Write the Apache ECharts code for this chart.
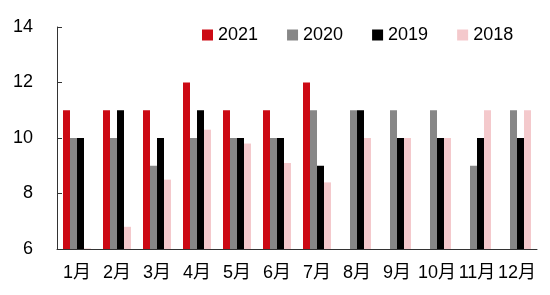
<!DOCTYPE html>
<html><head><meta charset="utf-8">
<script src="https://cdn.jsdelivr.net/npm/echarts@6/dist/echarts.min.js"></script>
<style>html,body{margin:0;padding:0;background:#fff}#c{width:550px;height:295px}</style>
</head><body><div id="c"></div>
<script>
const categories = ['1月','2月','3月','4月','5月','6月','7月','8月','9月','10月','11月','12月'];
const s2021 = [11,11,11,12,11,11,12,null,null,null,null,null];
const s2020 = [10,10,9,10,10,10,11,11,11,11,9,11];
const s2019 = [10,11,10,11,10,10,9,11,10,10,10,10];
const s2018 = [6.02,6.8,8.5,10.3,9.8,9.1,8.4,10,10,10,11,11];
const seriesNames = ['2021','2020','2019','2018'];
const colors = ['#CC0A14','#878787','#000000','#F4C9CC'];
const font = '"Liberation Sans", "Noto Sans CJK SC", sans-serif';
const chart = echarts.init(document.getElementById('c'));
const dataSets = [s2021,s2020,s2019,s2018];
chart.setOption({
  animation:false,
  legend:{top:21,left:197,itemWidth:11,itemHeight:11,itemGap:29,icon:'rect',
    textStyle:{fontSize:18,color:'#000',fontFamily:font},data:seriesNames},
  grid:{left:57,right:13,top:27,bottom:46},
  xAxis:{type:'category',data:categories,
    axisLine:{lineStyle:{color:'#333',width:1}},
    axisTick:{inside:true,length:5,lineStyle:{color:'#333'}},
    axisLabel:{fontSize:18,color:'#000',fontFamily:font,margin:15,interval:0}},
  yAxis:{type:'value',min:6,max:14,interval:2,
    axisLine:{show:true,lineStyle:{color:'#333'}},
    axisTick:{show:true,inside:true,length:5,lineStyle:{color:'#333'}},
    splitLine:{show:false},
    axisLabel:{fontSize:18,color:'#000',fontFamily:font,margin:24}},
  series:dataSets.map((d,i)=>({name:seriesNames[i],type:'bar',data:d,
    itemStyle:{color:colors[i]},barGap:'0%',barCategoryGap:'30%'}))
});
</script></body></html>
